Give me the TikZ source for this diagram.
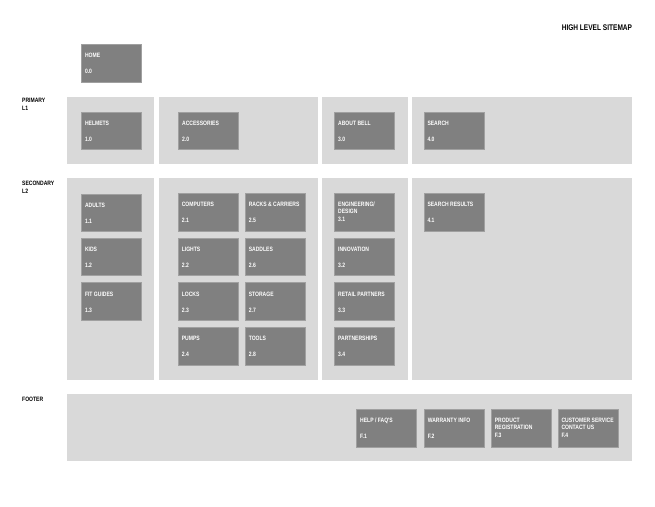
\documentclass[tikz,border=0pt]{standalone}
\usepackage{fontspec}
\setmainfont{Liberation Sans}
\newfontfamily\cnd[FakeStretch=0.8]{Liberation Sans}
\usetikzlibrary{calc}
\definecolor{bandgray}{HTML}{D9D9D9}
\definecolor{boxgray}{HTML}{808080}
\tikzset{
  bandrect/.style={fill=bandgray, draw=none},
  sbox/.style={fill=boxgray, draw=boxgray!75!white, line width=0.6pt, minimum width=60pt, minimum height=37.5pt, anchor=north west, inner sep=0pt, outer sep=0pt},
  btxt/.style={text=white, font=\cnd\bfseries\fontsize{6.3}{7}\selectfont, anchor=base west, inner sep=0pt},
  sidetxt/.style={text=black, font=\cnd\bfseries\fontsize{6.3}{7}\selectfont, anchor=base west, inner sep=0pt},
  titletxt/.style={text=black, font=\cnd\bfseries\fontsize{8.2}{9}\selectfont, anchor=base east, inner sep=0pt}
}
\newcommand\sbx[5]{%
  \node[sbox] (#1) at (#2,#3) {};
  \node[btxt] (#1-t) at ($(#1.north west)+(3.3,13.5)$) {#4};
  \node[btxt] (#1-n) at ($(#1.north west)+(3.3,29.5)$) {#5};}
\newcommand\sbxx[6]{%
  \node[sbox] (#1) at (#2,#3) {};
  \node[btxt] (#1-t) at ($(#1.north west)+(3.3,12.8)$) {#4};
  \node[btxt] (#1-u) at ($(#1.north west)+(3.3,20.6)$) {#5};
  \node[btxt] (#1-n) at ($(#1.north west)+(3.3,28.6)$) {#6};}
\begin{document}
\begin{tikzpicture}[x=1pt,y=-1pt]
\useasboundingbox (0,0) rectangle (655,506);
% title
\node[titletxt] (title) at (632.3,30.5) {HIGH LEVEL SITEMAP};
% side labels
\node[sidetxt] (lprim) at (22,102.5) {PRIMARY};
\node[sidetxt] (lprim2) at (22,110.5) {L1};
\node[sidetxt] (lsec) at (22,185) {SECONDARY};
\node[sidetxt] (lsec2) at (22,193) {L2};
\node[sidetxt] (lfoot) at (22,401.5) {FOOTER};
% bands
\fill[bandrect] (67,97) rectangle (154,164);
\fill[bandrect] (159,97) rectangle (318,164);
\fill[bandrect] (322,97) rectangle (407.5,164);
\fill[bandrect] (411.7,97) rectangle (632.3,164);
\fill[bandrect] (67,178.3) rectangle (154,379.5);
\fill[bandrect] (159,178.3) rectangle (318,379.5);
\fill[bandrect] (322,178.3) rectangle (407.5,379.5);
\fill[bandrect] (411.7,178.3) rectangle (632.3,379.5);
\fill[bandrect] (67,394) rectangle (632.3,461.3);
% home
\sbx{home}{81.5}{44.3}{HOME}{0.0}
% primary
\sbx{helmets}{81.5}{112}{HELMETS}{1.0}
\sbx{access}{178.7}{112}{ACCESSORIES}{2.0}
\sbx{about}{334.7}{112}{ABOUT BELL}{3.0}
\sbx{search}{424}{112}{SEARCH}{4.0}
% secondary
\sbx{adults}{81.5}{193.8}{ADULTS}{1.1}
\sbx{kids}{81.5}{238.2}{KIDS}{1.2}
\sbx{fit}{81.5}{282.7}{FIT GUIDES}{1.3}
\sbx{computers}{178.3}{193.3}{COMPUTERS}{2.1}
\sbx{lights}{178.3}{238}{LIGHTS}{2.2}
\sbx{locks}{178.3}{282.7}{LOCKS}{2.3}
\sbx{pumps}{178.3}{327.3}{PUMPS}{2.4}
\sbx{racks}{245.3}{193.3}{RACKS \& CARRIERS}{2.5}
\sbx{saddles}{245.3}{238}{SADDLES}{2.6}
\sbx{storage}{245.3}{282.7}{STORAGE}{2.7}
\sbx{tools}{245.3}{327.3}{TOOLS}{2.8}
\sbxx{engineering}{334.7}{193.3}{ENGINEERING/}{DESIGN}{3.1}
\sbx{innovation}{334.7}{238}{INNOVATION}{3.2}
\sbx{retail}{334.7}{282.7}{RETAIL PARTNERS}{3.3}
\sbx{partnerships}{334.7}{327.3}{PARTNERSHIPS}{3.4}
\sbx{results}{424}{193.3}{SEARCH RESULTS}{4.1}
% footer
\sbx{help}{356.7}{409.3}{HELP / FAQ'S}{F.1}
\sbx{warranty}{424.3}{409.3}{WARRANTY INFO}{F.2}
\sbxx{product}{491.3}{409.3}{PRODUCT}{REGISTRATION}{F.3}
\sbxx{customer}{558}{409.3}{CUSTOMER SERVICE}{CONTACT US}{F.4}
\end{tikzpicture}
\end{document}
